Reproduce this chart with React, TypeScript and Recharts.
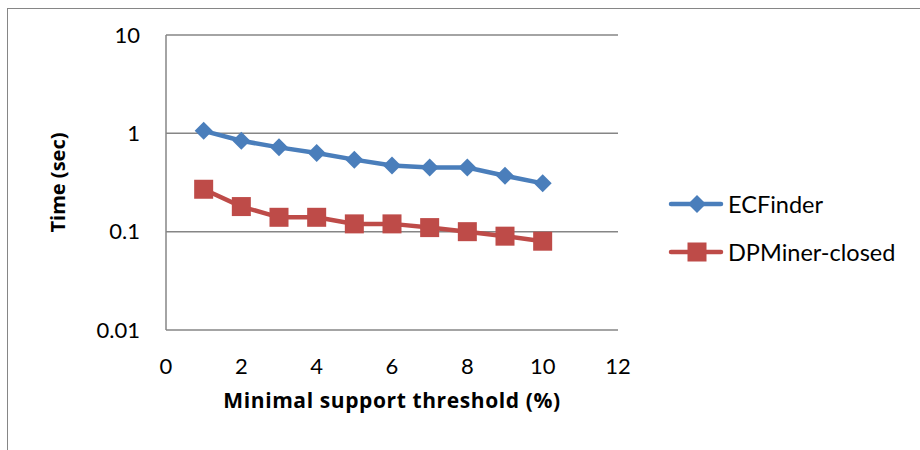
import { CartesianGrid, Label, Line, LineChart, XAxis, YAxis } from "recharts";

const thresholds = [1, 2, 3, 4, 5, 6, 7, 8, 9, 10];
const ecFinder = [1.06, 0.84, 0.72, 0.63, 0.54, 0.47, 0.45, 0.45, 0.37, 0.31];
const dpMinerClosed = [0.27, 0.18, 0.14, 0.14, 0.12, 0.12, 0.11, 0.1, 0.09, 0.08];
const seriesNames = ["ECFinder", "DPMiner-closed"];
const xTicks = [0, 2, 4, 6, 8, 10, 12];
const yTicks = [0.01, 0.1, 1, 10];

const BLUE = "#4A7EBB";
const RED = "#BE4B48";
const FONT = "Lato, 'Open Sans', sans-serif";
const TITLE_FONT = "'Open Sans', Lato, sans-serif";

const data = thresholds.map((t, i) => ({
	x: t,
	ecf: ecFinder[i],
	dpm: dpMinerClosed[i],
}));

function Diamond(props: any) {
	const { cx, cy } = props;
	if (cx == null || cy == null) return null;
	const r = 9;
	return (
		<path
			d={`M${cx},${cy - r}L${cx + r},${cy}L${cx},${cy + r}L${cx - r},${cy}Z`}
			fill={BLUE}
		/>
	);
}

function Square(props: any) {
	const { cx, cy } = props;
	if (cx == null || cy == null) return null;
	const s = 9.5;
	return <rect x={cx - s} y={cy - s} width={s * 2} height={s * 2} fill={RED} />;
}

function LegendBox() {
	const items = [
		{ name: seriesNames[0], color: BLUE, shape: "diamond" },
		{ name: seriesNames[1], color: RED, shape: "square" },
	];
	return (
		<div
			style={{
				position: "absolute",
				left: 668,
				top: 180,
				fontFamily: FONT,
				fontSize: 23.5,
				color: "#000",
			}}
		>
			{items.map((it) => (
				<div
					key={it.name}
					style={{ display: "flex", alignItems: "center", height: 48 }}
				>
					<svg width={56} height={24}>
						<line x1={3} y1={12} x2={53} y2={12} stroke={it.color} strokeWidth={4.5} strokeLinecap="round" />
						{it.shape === "diamond" ? (
							<path d="M29,3L38,12L29,21L20,12Z" fill={it.color} />
						) : (
							<rect x={19.5} y={2.5} width={19} height={19} fill={it.color} />
						)}
					</svg>
					<span style={{ marginLeft: 4 }}>{it.name}</span>
				</div>
			))}
		</div>
	);
}

export default function App() {
	return (
		<div
			style={{
				position: "absolute",
				left: 0,
				top: 0,
				width: 920,
				height: 450,
				background: "#fff",
				overflow: "hidden",
			}}
		>
			<div
				style={{
					position: "absolute",
					left: 7,
					top: 8,
					width: 940,
					height: 470,
					border: "1px solid #868686",
				}}
			/>
			<LineChart
				width={920}
				height={450}
				data={data}
				margin={{ top: 35, right: 302, bottom: 40, left: 0 }}
				style={{ fontFamily: FONT, position: "absolute", left: 0, top: 0 }}
			>
				<CartesianGrid vertical={false} stroke="#868686" strokeWidth={1.5} />
				<XAxis
					type="number"
					dataKey="x"
					domain={[0, 12]}
					ticks={xTicks}
					axisLine={false}
					tickLine={false}
					tickMargin={22}
					height={80}
					tick={{ fontSize: 22, fill: "#000" }}
				>
					<Label
						value="Minimal support threshold (%)"
						position="insideBottom"
						offset={2}
						style={{
							fontSize: 21,
							fontWeight: 700,
							fill: "#000",
							fontFamily: TITLE_FONT,
							letterSpacing: 0.6,
						}}
					/>
				</XAxis>
				<YAxis
					scale="log"
					domain={[0.01, 10]}
					ticks={yTicks}
					allowDataOverflow
					width={166}
					axisLine={{ stroke: "#868686", strokeWidth: 1.5 }}
					tickLine={false}
					tickMargin={20}
					tickFormatter={(v: number) => String(v)}
					tick={{ fontSize: 22, fill: "#000" }}
				>
					<Label
						value="Time (sec)"
						angle={-90}
						position="insideLeft"
						offset={58}
						style={{ fontSize: 20, fontWeight: 700, fill: "#000", textAnchor: "middle", fontFamily: TITLE_FONT }}
					/>
				</YAxis>
				<Line
					dataKey="ecf"
					name={seriesNames[0]}
					stroke={BLUE}
					strokeWidth={4.5}
					dot={<Diamond />}
					activeDot={false}
					isAnimationActive={false}
				/>
				<Line
					dataKey="dpm"
					name={seriesNames[1]}
					stroke={RED}
					strokeWidth={4.5}
					dot={<Square />}
					activeDot={false}
					isAnimationActive={false}
				/>
			</LineChart>
			<LegendBox />
		</div>
	);
}
